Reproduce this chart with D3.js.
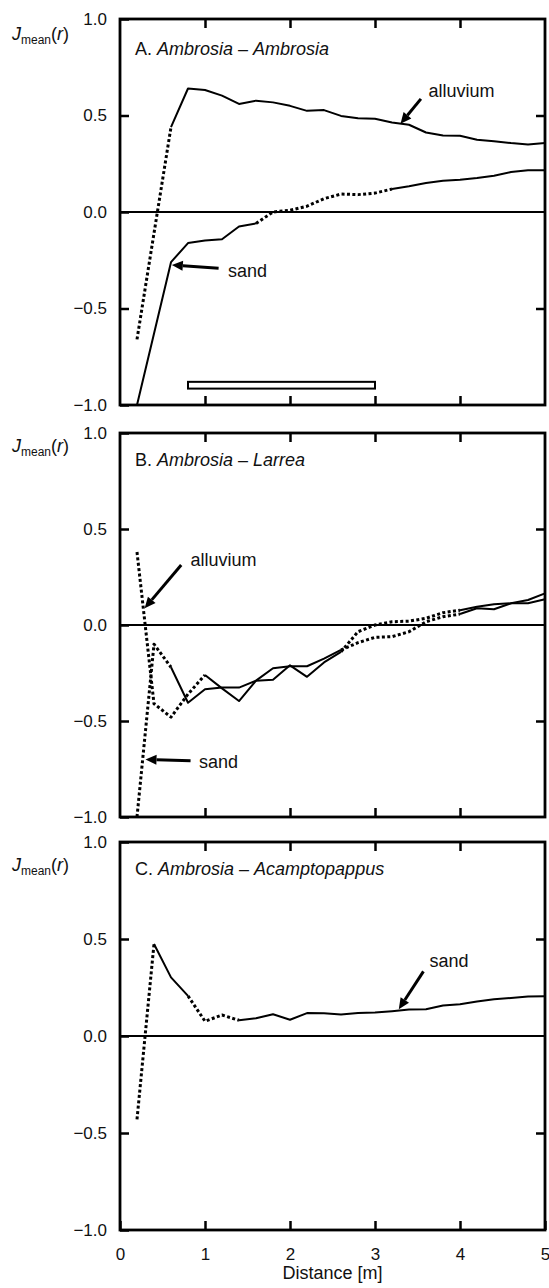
<!DOCTYPE html>
<html lang="en">
<head>
<meta charset="utf-8">
<title>Jmean(r) Ambrosia</title>
<script src="https://d3js.org/d3.v7.min.js"></script>
<style>
  body { margin: 0; background: #fff; }
  text { font-family: "Liberation Sans", Arial, Helvetica, sans-serif; }
</style>
</head>
<body>
<div id="chart"></div>
<script>
// distances (m) where J is evaluated
var dist = [0.2, 0.4, 0.6, 0.8, 1.0, 1.2, 1.4, 1.6, 1.8, 2.0, 2.2, 2.4, 2.6,
            2.8, 3.0, 3.2, 3.4, 3.6, 3.8, 4.0, 4.2, 4.4, 4.6, 4.8, 5.0];

// A. Ambrosia - Ambrosia
var aAlluvium = [-0.66, null, 0.44, 0.64, 0.632, 0.603, 0.56, 0.577, 0.568, 0.55, 0.524, 0.528, 0.498,
                 0.486, 0.483, 0.464, 0.452, 0.412, 0.396, 0.395, 0.374, 0.367, 0.357, 0.35, 0.357];
var aSand = [-1.0, null, -0.26, -0.161, -0.148, -0.141, -0.075, -0.059, 0.0, 0.009, 0.03, 0.069, 0.093,
             0.09, 0.098, 0.119, 0.133, 0.15, 0.162, 0.167, 0.176, 0.188, 0.207, 0.216, 0.216];
var aAlluviumDotted = [[0.2, 0.6]];
var aSandDotted = [[1.6, 3.2]];

// B. Ambrosia - Larrea
var bAlluvium = [0.38, -0.41, -0.48, -0.36, -0.26, -0.33, -0.396, -0.29, -0.285, -0.21, -0.27, -0.195, -0.14,
                 -0.035, 0.0, 0.017, 0.02, 0.035, 0.064, 0.077, 0.095, 0.108, 0.113, 0.13, 0.165];
var bSand = [-1.0, -0.10, -0.22, -0.405, -0.335, -0.325, -0.326, -0.29, -0.225, -0.215, -0.215, -0.175, -0.13,
             -0.092, -0.064, -0.061, -0.035, 0.017, 0.043, 0.057, 0.087, 0.082, 0.113, 0.113, 0.134];
var bAlluviumDotted = [[0.2, 1.0], [2.6, 4.0]];
var bSandDotted = [[0.2, 0.6], [2.6, 4.0]];

// C. Ambrosia - Acamptopappus
var cSand = [-0.43, 0.474, 0.302, 0.207, 0.076, 0.108, 0.081, 0.091, 0.112, 0.084, 0.118, 0.117, 0.111,
             0.118, 0.121, 0.128, 0.136, 0.138, 0.157, 0.164, 0.178, 0.19, 0.196, 0.203, 0.205];
var cSandDotted = [[0.2, 0.4], [0.8, 1.4]];

// the open bar in panel A
var aBar = {x: [0.8, 3.0], y: [-0.915, -0.88]};

// annotations: text position and arrow tail -> tip, in data units
var aNotes = [
  {label: "alluvium", tx: 3.63, ty: 0.597, from: [3.54, 0.586], to: [3.30, 0.457]},
  {label: "sand", tx: 1.27, ty: -0.337, from: [1.16, -0.292], to: [0.61, -0.275]}
];
var bNotes = [
  {label: "alluvium", tx: 0.83, ty: 0.309, from: [0.72, 0.3125], to: [0.29, 0.087]},
  {label: "sand", tx: 0.93, ty: -0.746, from: [0.83, -0.707], to: [0.30, -0.70]}
];
var cNotes = [
  {label: "sand", tx: 3.64, ty: 0.356, from: [3.57, 0.333], to: [3.28, 0.138]}
];

var xTicks = [0, 1, 2, 3, 4, 5];
var yTicks = [-1.0, -0.5, 0.0, 0.5, 1.0];

var panels = [
  {letter: "A.", sp1: "Ambrosia", sp2: "Ambrosia", top: 19, bottom: 405, labelY: 40, titleY: 55,
   series: [[aAlluvium, aAlluviumDotted], [aSand, aSandDotted]], notes: aNotes, bar: aBar},
  {letter: "B.", sp1: "Ambrosia", sp2: "Larrea", top: 433, bottom: 817, labelY: 452, titleY: 466,
   series: [[bAlluvium, bAlluviumDotted], [bSand, bSandDotted]], notes: bNotes},
  {letter: "C.", sp1: "Ambrosia", sp2: "Acamptopappus", top: 842, bottom: 1230, labelY: 871, titleY: 875,
   series: [[cSand, cSandDotted]], notes: cNotes}
];

var W = 549, H = 1288;
var svg = d3.select("#chart").append("svg")
    .attr("width", W)
    .attr("height", H);

var x = d3.scaleLinear().domain([0, 5]).range([120, 545]);

function isDotted(x0, x1, ranges) {
  return ranges.some(function(r) { return x0 >= r[0] - 1e-9 && x1 <= r[1] + 1e-9; });
}

panels.forEach(function(p, i) {
  var y = d3.scaleLinear().domain([-1, 1]).range([p.bottom, p.top]);
  var g = svg.append("g");
  var last = i == panels.length - 1;

  // ticks (inward)
  var bx = g.append("g")
    .attr("transform", "translate(0," + p.bottom + ")")
    .call(d3.axisBottom(x).tickValues(last ? xTicks : [1, 2, 3, 4])
      .tickSize(-9).tickPadding(18).tickFormat(last ? d3.format("d") : ""));
  g.append("g")
    .attr("transform", "translate(0," + p.top + ")")
    .call(d3.axisTop(x).tickValues([1, 2, 3, 4]).tickSize(-9).tickFormat(""));
  g.append("g")
    .attr("transform", "translate(" + x(0) + ",0)")
    .call(d3.axisLeft(y).tickValues(yTicks).tickSize(-9).tickPadding(13).tickFormat(d3.format(".1f")));
  g.append("g")
    .attr("transform", "translate(" + x(5) + ",0)")
    .call(d3.axisRight(y).tickValues([-0.5, 0.5]).tickSize(-9).tickFormat(""));

  g.selectAll(".domain").remove();
  g.selectAll(".tick line").attr("stroke", "#000").attr("stroke-width", 2.5);
  g.selectAll(".tick text").attr("font-size", 17).attr("fill", "#111")
    .attr("font-family", "'Liberation Sans', Arial, sans-serif");

  // zero line
  g.append("line")
    .attr("x1", x(0)).attr("x2", x(5))
    .attr("y1", y(0)).attr("y2", y(0))
    .attr("stroke", "#000").attr("stroke-width", 2);

  // open bar
  if (p.bar) {
    g.append("rect")
      .attr("x", x(p.bar.x[0]))
      .attr("y", y(p.bar.y[1]))
      .attr("width", x(p.bar.x[1]) - x(p.bar.x[0]))
      .attr("height", y(p.bar.y[0]) - y(p.bar.y[1]))
      .attr("fill", "#fff").attr("stroke", "#000").attr("stroke-width", 2);
  }

  // series, split into solid and dotted runs
  var line = d3.line().x(function(d) { return x(d[0]); }).y(function(d) { return y(d[1]); });
  p.series.forEach(function(s) {
    var pts = dist.map(function(d, k) { return [d, s[0][k]]; })
      .filter(function(d) { return d[1] != null; });
    var runs = [];
    for (var k = 0; k < pts.length - 1; k++) {
      var dot = isDotted(pts[k][0], pts[k + 1][0], s[1]);
      if (runs.length && runs[runs.length - 1].dot == dot) {
        runs[runs.length - 1].pts.push(pts[k + 1]);
      } else {
        runs.push({dot: dot, pts: [pts[k], pts[k + 1]]});
      }
    }
    runs.forEach(function(r) {
      g.append("path")
        .attr("d", line(r.pts))
        .attr("fill", "none")
        .attr("stroke", "#000")
        .attr("stroke-width", r.dot ? 3 : 2)
        .attr("stroke-dasharray", r.dot ? "3,2.4" : null)
        .attr("stroke-linejoin", "round");
    });
  });

  // frame
  g.append("rect")
    .attr("x", x(0)).attr("y", p.top)
    .attr("width", x(5) - x(0)).attr("height", p.bottom - p.top)
    .attr("fill", "none").attr("stroke", "#000").attr("stroke-width", 2.8);

  // annotations with arrows
  p.notes.forEach(function(n) {
    var x0 = x(n.from[0]), y0 = y(n.from[1]), x1 = x(n.to[0]), y1 = y(n.to[1]);
    var ang = Math.atan2(y1 - y0, x1 - x0);
    var hl = 11, hw = 5;
    var bxh = x1 - hl * Math.cos(ang), byh = y1 - hl * Math.sin(ang);
    g.append("line")
      .attr("x1", x0).attr("y1", y0).attr("x2", bxh).attr("y2", byh)
      .attr("stroke", "#000").attr("stroke-width", 3);
    g.append("path")
      .attr("d", "M" + x1 + "," + y1 +
        "L" + (bxh + hw * Math.sin(ang)) + "," + (byh - hw * Math.cos(ang)) +
        "L" + (bxh - hw * Math.sin(ang)) + "," + (byh + hw * Math.cos(ang)) + "Z")
      .attr("fill", "#000");
    g.append("text")
      .attr("x", x(n.tx)).attr("y", y(n.ty))
      .attr("font-size", 18).attr("fill", "#111")
      .text(n.label);
  });

  // panel title
  var t = g.append("text").attr("x", 135).attr("y", p.titleY)
    .attr("font-size", 18).attr("fill", "#111");
  t.append("tspan").text(p.letter + " ");
  t.append("tspan").attr("font-style", "italic").text(p.sp1);
  t.append("tspan").text(" \u2013 ");
  t.append("tspan").attr("font-style", "italic").text(p.sp2);

  // y label J_mean(r)
  var yl = g.append("text").attr("x", 12).attr("y", p.labelY)
    .attr("font-size", 18).attr("fill", "#111");
  yl.append("tspan").attr("font-style", "italic").text("J");
  yl.append("tspan").attr("font-size", 12).attr("dy", 4).text("mean");
  yl.append("tspan").attr("dy", -4).text("(");
  yl.append("tspan").attr("font-style", "italic").text("r");
  yl.append("tspan").text(")");
});

svg.append("text")
  .attr("x", (x(0) + x(5)) / 2)
  .attr("y", 1279)
  .attr("text-anchor", "middle")
  .attr("font-size", 18).attr("fill", "#111")
  .text("Distance [m]");
</script>
</body>
</html>
